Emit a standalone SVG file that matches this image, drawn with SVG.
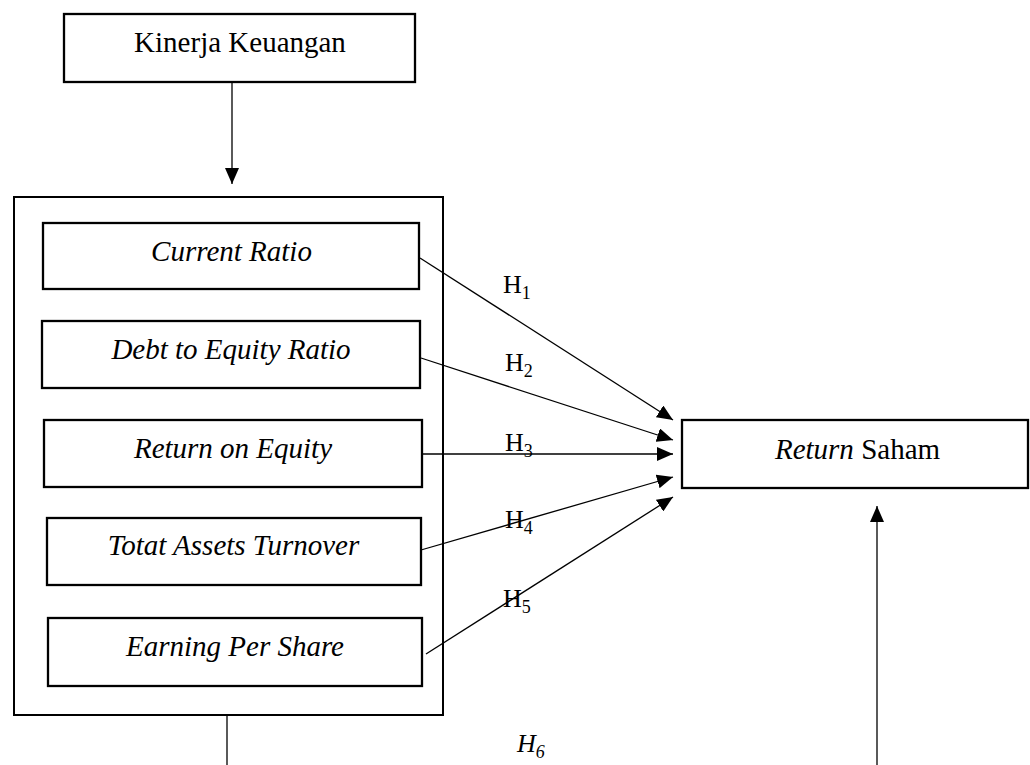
<svg xmlns="http://www.w3.org/2000/svg" width="1030" height="765" viewBox="0 0 1030 765">
<style>
.box{fill:#fff;stroke:#000;stroke-width:2.3}
.outer{fill:none;stroke:#000;stroke-width:2}
.t{font-family:"Liberation Serif","Times New Roman",serif;font-size:29px;fill:#000;text-anchor:middle}
.i{font-style:italic}
.h{font-family:"Liberation Serif","Times New Roman",serif;font-size:26px;fill:#000}
.sub{font-size:18px}
.c{stroke:#000;stroke-width:1.3;fill:none}
</style>
<defs>
<marker id="ah" markerUnits="userSpaceOnUse" markerWidth="16" markerHeight="14" refX="16" refY="7" orient="auto">
<path d="M0,0 L16,7 L0,14 z" fill="#000"/>
</marker>
</defs>
<rect width="1030" height="765" fill="#fff"/>
<g id="kinerja">
<rect class="box" x="64" y="14" width="351" height="68"/>
<text class="t" x="240" y="52">Kinerja Keuangan</text>
</g>
<g id="group">
<rect class="outer" x="14" y="197" width="429" height="518"/>
</g>
<g id="cr">
<rect class="box" x="43" y="223" width="376" height="66"/>
<text class="t i" x="231.5" y="261">Current Ratio</text>
</g>
<g id="der">
<rect class="box" x="42" y="321" width="378" height="67"/>
<text class="t i" x="231" y="359">Debt to Equity Ratio</text>
</g>
<g id="roe">
<rect class="box" x="44" y="420" width="378" height="67"/>
<text class="t i" x="233" y="458">Return on Equity</text>
</g>
<g id="tat">
<rect class="box" x="47" y="518" width="374" height="67"/>
<text class="t i" x="233.5" y="555">Totat Assets Turnover</text>
</g>
<g id="eps">
<rect class="box" x="48" y="618" width="374" height="68"/>
<text class="t i" x="235" y="656">Earning Per Share</text>
</g>
<g id="return">
<rect class="box" x="682" y="420" width="346" height="68"/>
<text class="t" x="857.5" y="459"><tspan class="i">Return</tspan> Saham</text>
</g>
<g id="connectors">
<line class="c" x1="232" y1="82" x2="232" y2="184" marker-end="url(#ah)"/>
<line class="c" x1="420" y1="258" x2="673" y2="420" marker-end="url(#ah)"/>
<line class="c" x1="421" y1="358" x2="673" y2="440" marker-end="url(#ah)"/>
<line class="c" x1="422" y1="454" x2="673" y2="454" marker-end="url(#ah)"/>
<line class="c" x1="421" y1="550" x2="673" y2="477" marker-end="url(#ah)"/>
<line class="c" x1="426" y1="654" x2="673" y2="497" marker-end="url(#ah)"/>
<line class="c" x1="227" y1="715" x2="227" y2="765"/>
<line class="c" x1="877" y1="765" x2="877" y2="506" marker-end="url(#ah)"/>
</g>
<g id="labels">
<text class="h" x="503" y="293">H<tspan class="sub" dy="6">1</tspan></text>
<text class="h" x="505" y="371">H<tspan class="sub" dy="6">2</tspan></text>
<text class="h" x="505" y="451">H<tspan class="sub" dy="6">3</tspan></text>
<text class="h" x="505" y="528">H<tspan class="sub" dy="6">4</tspan></text>
<text class="h" x="503" y="607">H<tspan class="sub" dy="6">5</tspan></text>
<text class="h" x="517" y="752" font-style="italic">H<tspan class="sub" dy="6">6</tspan></text>
</g>
</svg>
